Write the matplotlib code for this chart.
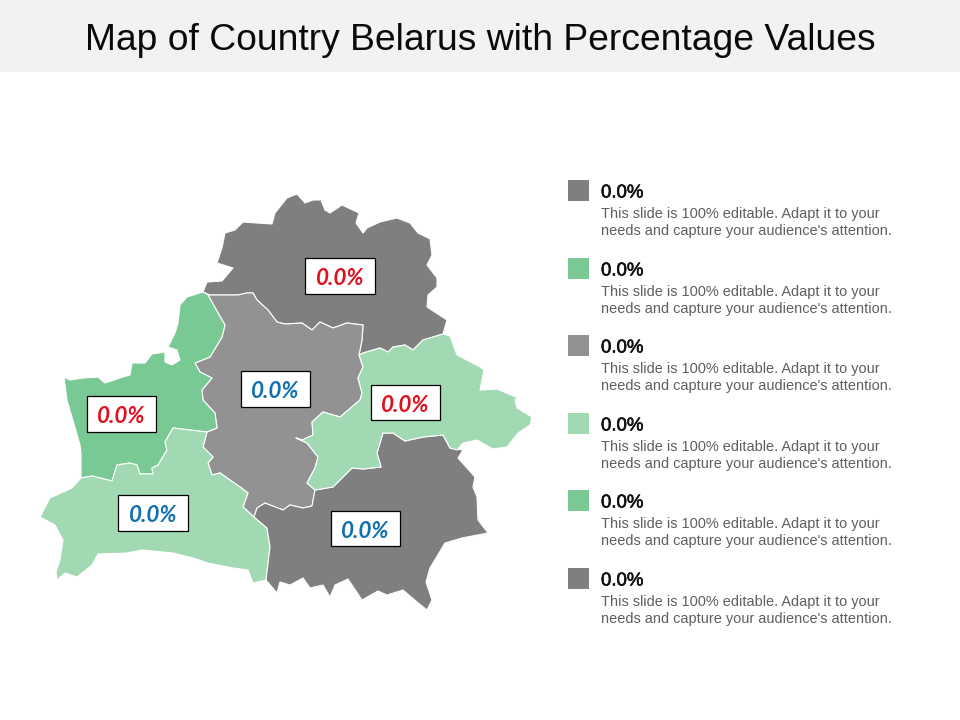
import matplotlib
matplotlib.use("Agg")
import matplotlib.pyplot as plt
import matplotlib.patheffects as pe
from matplotlib.patches import Rectangle

plt.rcParams['font.family'] = ['Liberation Sans', 'DejaVu Sans']

TITLE = "Map of Country Belarus with Percentage Values"
BODY = ["This slide is 100% editable. Adapt it to your",
        "needs and capture your audience's attention."]
VALUE = "0.0%"

north = [(203,292),(207,282),(222,281),(233,268),(217,263),(222,248),(225,233),(235,230),(243,222),(257,223),
         (272,224),(275,213),(287,198),(297,194),(305,203),(313,200),(321,200),(325,210),(330,213),(342,205),
         (359,213),(356,223),(363,233),(367,228),(380,222),(397,218),(410,223),(418,233),(430,239),(432,255),
         (427,265),(437,278),(437,287),(428,295),(427,307),(447,320),(443,334),(423,340),(413,350),(405,345),
         (393,347),(388,352),(380,348),(363,353),(359,355),(362,340),(363,325),(347,323),(333,328),(320,322),
         (312,330),(302,323),(285,324),(277,322),(268,310),(257,300),(253,293),(247,293),(238,295),(227,295),(210,295)]
centre = [(208,295),(227,295),(238,295),(247,293),(253,293),(257,300),(268,310),(277,322),(285,324),(302,323),
          (312,330),(320,322),(333,328),(347,323),(363,325),(362,340),(359,355),(363,367),(358,378),(362,393),
          (360,400),(340,417),(323,412),(312,422),(313,435),(302,440),(296,438),(307,443),(318,457),(315,468),
          (307,483),(315,490),(312,506),(303,508),(290,505),(283,510),(270,505),(265,503),(257,508),(254,517),
          (243,507),(248,493),(240,487),(220,473),(212,475),(208,463),(213,457),(203,447),(207,432),(217,428),
          (215,413),(203,400),(202,390),(212,378),(200,372),(195,363),(210,357),(222,337),(225,325),(218,313)]
west = [(203,292),(208,295),(218,313),(225,325),(222,337),(210,357),(195,363),(200,372),(212,378),(202,390),
        (203,400),(215,413),(217,428),(207,432),(173,428),(165,442),(167,450),(158,465),(152,468),(153,474),
        (140,474),(137,465),(130,463),(117,465),(112,481),(100,478),(92,476),(81,478),(81,453),(80,445),
        (67,400),(64,377),(70,380),(83,378),(98,377),(105,383),(123,377),(130,375),(132,363),(145,363),
        (152,354),(165,352),(165,362),(172,365),(180,360),(177,350),(168,347),(175,333),(178,323),(180,305),(187,297)]
southwest = [(81,478),(92,476),(100,478),(112,481),(117,465),(130,463),(137,465),(140,474),(153,474),(152,468),
             (158,465),(167,450),(165,442),(173,428),(207,432),(203,447),(213,457),(208,463),(212,475),(220,473),
             (240,487),(248,493),(243,507),(254,517),(267,528),(270,547),(266,580),(253,583),(248,570),(233,568),
             (208,563),(193,558),(173,553),(142,550),(127,553),(98,554),(92,565),(77,577),(65,573),(57,580),
             (56,572),(60,560),(63,540),(55,525),(40,517),(50,498),(72,488)]
southeast = [(266,580),(277,593),(280,582),(290,585),(303,578),(310,588),(323,585),(330,597),(335,585),(348,579),
             (362,600),(378,591),(387,595),(403,590),(417,602),(427,610),(432,600),(426,582),(430,568),(445,543),
             (462,538),(488,533),(478,520),(477,497),(473,487),(475,477),(458,458),(463,450),(450,448),(443,435),
             (423,437),(405,441),(393,433),(383,433),(377,453),(381,467),(363,469),(352,468),(342,478),(333,487),
             (315,490),(312,506),(303,508),(290,505),(283,510),(270,505),(265,503),(257,508),(254,517),(267,528),(270,547)]
east = [(359,355),(363,353),(380,348),(388,352),(393,347),(405,345),(413,350),(423,340),(443,334),(450,336),
        (457,355),(480,367),(484,370),(480,390),(497,389),(518,398),(515,400),(517,408),(532,417),(530,425),
        (518,433),(507,447),(493,449),(477,440),(463,443),(457,450),(450,448),(443,435),(423,437),(405,441),
        (393,433),(383,433),(377,453),(381,467),(363,469),(352,468),(342,478),(333,487),(315,490),(307,483),
        (315,468),(318,457),(307,443),(296,438),(302,440),(313,435),(312,422),(323,412),(340,417),(360,400),
        (362,393),(358,378),(363,367)]

DARK, GREY, GREEN, PALE = '#7f7f7f', '#929292', '#79c995', '#a0d9b2'
RED, BLUE = '#e0101f', '#1070b0'

regions = [(north, DARK), (centre, GREY), (west, GREEN), (southwest, PALE), (southeast, DARK), (east, PALE)]
# label box: left, top, right, bottom, colour
labels = [(305,258,375,294,RED), (241,371,310,407,BLUE), (87,396,156,432,RED),
          (371,385,440,420,RED), (118,495,188,531,BLUE), (331,511,400,546,BLUE)]
legend_colors = [DARK, GREEN, GREY, PALE, GREEN, DARK]
legend_top = [180, 258, 335, 413, 490, 568]

fig = plt.figure(figsize=(9.6, 7.2), dpi=100)
ax = fig.add_axes([0, 0, 1, 1])
ax.set_xlim(0, 960)
ax.set_ylim(720, 0)
ax.axis('off')

ax.add_patch(Rectangle((0, 0), 960, 72, fc='#f2f2f2', ec='none'))
ax.text(480.5, 40, TITLE, ha='center', va='center', fontsize=26.8, color='#0a0a0a')

for pts, col in regions:
    xs, ys = zip(*pts)
    ax.fill(xs, ys, fc=col, ec='white', lw=0.8, joinstyle='round')

for l, t, r, b, col in labels:
    ax.add_patch(Rectangle((l, t), r - l, b - t, fc='white', ec='black', lw=0.9, zorder=3))
    ax.text((l + r) / 2, (t + b) / 2 + 2.5, VALUE, ha='center', va='center', color=col, fontsize=16.2,
            fontweight='bold', fontstyle='italic', family=['Lato', 'DejaVu Sans'], zorder=4)

heading_fx = [pe.withStroke(linewidth=0.45, foreground='#111111')]
for top, col in zip(legend_top, legend_colors):
    ax.add_patch(Rectangle((568, top), 21, 21, fc=col, ec='none'))
    ax.text(601, top + 13, VALUE, ha='left', va='center', fontsize=13.4, color='#111111', path_effects=heading_fx)
    for i, line in enumerate(BODY):
        ax.text(601, top + 34 + 17 * i, line, ha='left', va='center', fontsize=10.45, color='#5f5f5f')

fig.savefig('out.png', dpi=100)
